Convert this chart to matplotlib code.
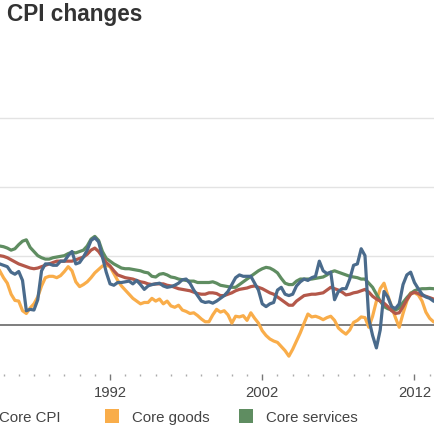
import numpy as np
import matplotlib
matplotlib.use("Agg")
import matplotlib.pyplot as plt
from matplotlib.patches import Rectangle

# ---- data (year-over-year % change, quarterly samples from 1984 Q4) ----
start_year = 1984.75
cpi = [4.4,
       4.3, 4.2, 3.8, 3.65,
       3.85, 3.2, 1.0, 1.1,
       1.05, 1.8, 3.9, 4.4,
       4.4, 4.3, 4.3, 4.6,
       4.6, 5.0, 5.3, 4.4,
       4.5, 4.9, 5.4, 6.1,
       6.3, 6.0, 4.9, 3.8,
       2.95, 2.85, 3.05, 3.05,
       3.1, 3.15, 2.95, 3.2,
       2.9, 2.55, 2.8, 2.9,
       2.95, 3.0, 2.8, 2.7,
       2.75, 2.85, 3.0, 3.25,
       3.3, 3.0, 2.5, 2.1,
       1.7, 1.6, 1.65, 1.55,
       1.7, 1.9, 2.1, 2.4,
       2.9, 3.4, 3.6, 3.5,
       3.5, 3.5, 3.0, 2.5,
       1.5, 1.3, 1.5, 1.6,
       2.5, 2.7, 2.2, 2.1,
       2.2, 2.8, 3.1, 3.3,
       3.2, 3.4, 3.5, 4.6,
       3.9, 3.7, 3.8, 1.8,
       2.4, 2.6, 2.6, 3.3,
       4.3, 4.4, 5.5, 5.0,
       0.4, -0.8, -1.7, -0.4,
       2.4, 2.0, 1.3, 1.15,
       1.5, 2.9, 3.6, 3.8,
       3.05, 2.6, 2.2, 2.0,
       1.9, 1.7, 1.6]

core_cpi = [5.0,
            4.95, 4.85, 4.7, 4.55,
            4.4, 4.3, 4.2, 4.1,
            4.05, 4.1, 4.2, 4.3,
            4.4, 4.5, 4.6, 4.6,
            4.6, 4.6, 4.6, 4.7,
            4.8, 4.9, 5.1, 5.4,
            5.55, 5.3, 4.9, 4.5,
            4.25, 3.9, 3.6, 3.5,
            3.4, 3.35, 3.3, 3.2,
            3.1, 3.05, 2.95, 2.9,
            2.95, 2.95, 2.95, 2.85,
            2.8, 2.7, 2.6, 2.55,
            2.5, 2.45, 2.35, 2.25,
            2.2, 2.2, 2.3, 2.3,
            2.25, 2.1, 2.1, 2.2,
            2.3, 2.45, 2.55, 2.6,
            2.65, 2.75, 2.8, 2.7,
            2.6, 2.45, 2.3, 2.2,
            2.0, 1.8, 1.6, 1.4,
            1.4, 1.7, 1.9, 2.1,
            2.15, 2.2, 2.2, 2.25,
            2.3, 2.5, 2.7, 2.6,
            2.5, 2.35, 2.15, 2.2,
            2.3, 2.35, 2.45, 2.55,
            2.35, 2.05, 1.85, 1.7,
            1.55, 1.3, 1.0, 0.8,
            0.85, 1.3, 1.8, 2.2,
            2.35, 2.25, 2.1, 2.05,
            1.95, 1.85, 1.8]

core_goods = [3.9,
              3.4, 3.0, 2.2, 1.75,
              1.7, 1.0, 0.8, 1.2,
              1.5, 2.0, 2.8, 3.4,
              3.5, 3.5, 3.4, 3.55,
              3.85, 4.2, 3.9, 3.1,
              2.75, 2.9, 3.1, 3.4,
              3.75, 4.0, 4.25, 4.3,
              4.2, 3.7, 3.2, 2.8,
              2.5, 2.2, 1.9, 1.7,
              1.5, 1.6, 1.6, 1.9,
              1.7, 1.85, 1.5, 1.7,
              1.35, 1.25, 1.4, 1.05,
              0.95, 0.8, 0.85, 0.65,
              0.4, 0.2, 0.2, 0.7,
              1.1, 0.9, 1.0, 0.7,
              0.1, 0.6, 0.55, 0.64,
              0.3, 0.85, 0.45, 0.1,
              -0.45, -0.8, -1.05, -1.2,
              -1.3, -1.6, -1.9, -2.3,
              -1.8, -1.2, -0.6, 0.1,
              0.76, 0.55, 0.6, 0.5,
              0.35, 0.5, 0.6, 0.3,
              -0.25, -0.5, -0.7, -0.4,
              0.15, 0.3, 0.55, 0.5,
              -0.2, 0.6, 1.7, 2.6,
              3.0, 2.1, 1.3, 0.5,
              -0.2, 0.8, 1.7, 2.3,
              2.3, 2.15, 1.7, 0.9,
              0.45, 0.2, 0.1]

core_services = [5.7,
                 5.65, 5.55, 5.4, 5.5,
                 5.8, 6.05, 6.15, 5.6,
                 5.3, 5.0, 4.85, 4.75,
                 4.75, 4.85, 4.9, 4.95,
                 5.0, 5.15, 5.25, 5.2,
                 5.3, 5.4, 5.7, 6.2,
                 6.4, 6.1, 5.3, 4.8,
                 4.6, 4.4, 4.25, 4.1,
                 4.05, 4.05, 4.0, 3.95,
                 3.9, 3.8, 3.75, 3.5,
                 3.45, 3.65, 3.7, 3.6,
                 3.45, 3.4, 3.3, 3.25,
                 3.2, 3.15, 3.15, 3.05,
                 3.05, 3.05, 3.05, 3.1,
                 3.0, 2.85, 2.8, 2.75,
                 2.7, 2.7, 2.9, 3.1,
                 3.3, 3.5, 3.7, 3.9,
                 4.05, 4.15, 4.1, 3.95,
                 3.75, 3.35, 3.0, 2.9,
                 2.9, 3.15, 3.3, 3.3,
                 3.3, 3.3, 3.35, 3.4,
                 3.45, 3.6, 3.8, 3.9,
                 3.8, 3.7, 3.6, 3.5,
                 3.45, 3.4, 3.3, 3.3,
                 3.0, 2.7, 2.2, 1.7,
                 1.3, 1.15, 1.05, 1.05,
                 1.2, 1.6, 1.95, 2.25,
                 2.45, 2.55, 2.6, 2.6,
                 2.62, 2.6, 2.55]

tick_years = [1992, 2002, 2012]
tick_labels = ["1992", "2002", "2012"]
grid_values = [5, 10, 15]
legend_labels = ["Core CPI", "Core goods", "Core services"]

colors = {"cpi": "#4a6b8c", "core": "#b4584a", "goods": "#f9ad4a", "services": "#5f8d61"}

t = start_year + 0.25 * np.arange(len(cpi))

W = H = 435
fig = plt.figure(figsize=(W / 100, H / 100), dpi=100)
plt.rcParams['font.family'] = ['Liberation Sans', 'DejaVu Sans']

ax_bottom_px = 375
ax_top_px = 60
ax = fig.add_axes([0, (H - ax_bottom_px) / H, 1, (ax_bottom_px - ax_top_px) / H])

px_per_unit = 13.77
zero_px = 325.5
ax.set_ylim(-(ax_bottom_px - zero_px) / px_per_unit, (zero_px - ax_top_px) / px_per_unit)
ax.set_xlim(1984.77, 2013.35)

for g in grid_values:
    ax.axhline(g, color="#e3e3e3", lw=1.0, zorder=1)
ax.axhline(0, color="#5a5a5a", lw=1.1, zorder=2)

lw = 2.3
ax.plot(t, core_goods, color=colors["goods"], lw=lw, zorder=3, solid_joinstyle="round")
ax.plot(t, core_services, color=colors["services"], lw=lw, zorder=4, solid_joinstyle="round")
ax.plot(t, core_cpi, color=colors["core"], lw=lw, zorder=5, solid_joinstyle="round")
ax.plot(t, cpi, color=colors["cpi"], lw=lw, zorder=6, solid_joinstyle="round")

for s in ax.spines.values():
    s.set_visible(False)
ax.set_yticks([])
ax.set_xticks(tick_years)
ax.set_xticklabels(tick_labels)
ax.set_xticks(np.arange(1985, 2014), minor=True)
ax.tick_params(axis="x", which="major", direction="out", length=4.0, width=1.0,
               color="#777777", pad=4, labelsize=10.6, labelcolor="#444444")
ax.tick_params(axis="x", which="minor", direction="out", length=1.3, width=1.0,
               color="#aaaaaa")

# title (cropped chart header)
fig.text(7.3 / W, (H - 21) / H, "CPI changes", fontsize=16.3, fontweight="bold",
         color="#333333", va="baseline", ha="left")

# legend (manual, matching the cropped layout)
leg_y_base = (H - 422) / H
fig.text(-1 / W, leg_y_base, legend_labels[0], fontsize=10.8, color="#444444", va="baseline")
for sq_x, txt_x, col, lab in [(105, 132, colors["goods"], legend_labels[1]),
                              (239, 266, colors["services"], legend_labels[2])]:
    fig.patches.append(Rectangle((sq_x / W, (H - 423.5) / H), 14 / W, 14 / H,
                                 transform=fig.transFigure, facecolor=col, edgecolor="none"))
    fig.text(txt_x / W, leg_y_base, lab, fontsize=10.8, color="#444444", va="baseline")

fig.savefig("out.png", dpi=100)
